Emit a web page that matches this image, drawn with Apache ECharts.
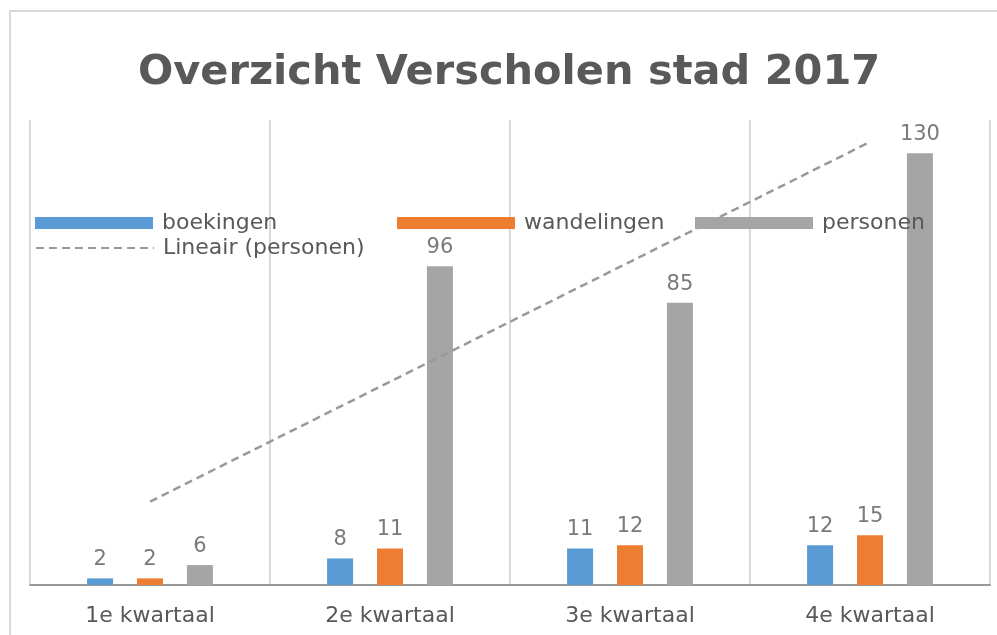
<!DOCTYPE html>
<html>
<head>
<meta charset="utf-8">
<script src="https://cdn.jsdelivr.net/npm/echarts@6/dist/echarts.min.js"></script>
<style>
  html, body { margin: 0; padding: 0; background: #fff; overflow: hidden; }
  #frame {
    position: absolute; left: 9px; top: 10px; right: 0; bottom: 0;
    border-top: 2px solid #d9d9d9; border-left: 2px solid #d9d9d9;
  }
  #chart { position: absolute; left: 0; top: 0; width: 997px; height: 635px; }
</style>
</head>
<body>
<div id="frame"></div>
<div id="chart"></div>
<script>
  // data
  var categories = ['1e kwartaal', '2e kwartaal', '3e kwartaal', '4e kwartaal'];
  var boekingen = [2, 8, 11, 12];
  var wandelingen = [2, 11, 12, 15];
  var personen = [6, 96, 85, 130];

  // lineaire trendlijn (kleinste kwadraten) over personen
  function trend(values) {
    var n = values.length, sx = 0, sy = 0, sxy = 0, sxx = 0;
    for (var i = 0; i < n; i++) {
      var x = i + 1;
      sx += x; sy += values[i]; sxy += x * values[i]; sxx += x * x;
    }
    var b = (n * sxy - sx * sy) / (n * sxx - sx * sx);
    var a = (sy - b * sx) / n;
    return values.map(function (v, i) { return +(a + b * (i + 1)).toFixed(2); });
  }
  var trendPersonen = trend(personen);

  var font = 'DejaVu Sans';
  var labelStyle = { show: true, position: 'top', distance: 8, color: '#7a7a7a', fontSize: 21, fontFamily: font };
  var legendBase = {
    padding: 0, itemWidth: 118, itemHeight: 12,
    textStyle: { color: '#595959', fontSize: 22, fontFamily: font, padding: [0, 0, 0, 4] }
  };

  var myChart = echarts.init(document.getElementById('chart'));
  myChart.setOption({
    animation: false,
    title: {
      text: 'Overzicht Verscholen stad 2017',
      left: 138, top: 52, padding: 0,
      textStyle: { color: '#595959', fontSize: 41.5, fontWeight: 'bold', fontFamily: font }
    },
    legend: [
      Object.assign({ left: 35, top: 212, data: [{ name: 'boekingen', icon: 'rect' }] }, legendBase),
      Object.assign({ left: 397, top: 212, data: [{ name: 'wandelingen', icon: 'rect' }] }, legendBase),
      Object.assign({ left: 695, top: 212, data: [{ name: 'personen', icon: 'rect' }] }, legendBase),
      Object.assign({ left: 35, top: 237, data: [{ name: 'Lineair (personen)', itemStyle: { opacity: 0 } }] }, legendBase)
    ],
    grid: { left: 30, right: 7, top: 120, bottom: 50 },
    xAxis: {
      type: 'category',
      data: categories,
      axisTick: { show: false },
      axisLine: { lineStyle: { color: '#999', width: 2 } },
      axisLabel: { color: '#595959', fontSize: 22, fontFamily: font, margin: 20 },
      splitLine: { show: true, lineStyle: { color: '#d9d9d9', width: 2 } }
    },
    yAxis: {
      type: 'value', min: 0, max: 140, interval: 20,
      axisLabel: { show: false }, axisLine: { show: false }, axisTick: { show: false },
      splitLine: { show: false }
    },
    series: [
      { name: 'boekingen', type: 'bar', data: boekingen, barWidth: 26, barGap: '92%',
        itemStyle: { color: '#5b9bd5' }, label: labelStyle },
      { name: 'wandelingen', type: 'bar', data: wandelingen, barWidth: 26, barGap: '92%',
        itemStyle: { color: '#ed7d31' }, label: labelStyle },
      { name: 'personen', type: 'bar', data: personen, barWidth: 26, barGap: '92%',
        itemStyle: { color: '#a5a5a5' }, label: labelStyle },
      { name: 'Lineair (personen)', type: 'line', data: trendPersonen, symbol: 'none', z: 3,
        itemStyle: { color: '#999' },
        lineStyle: { color: '#999', width: 2.5, type: [8, 5] } }
    ]
  });
</script>
</body>
</html>
